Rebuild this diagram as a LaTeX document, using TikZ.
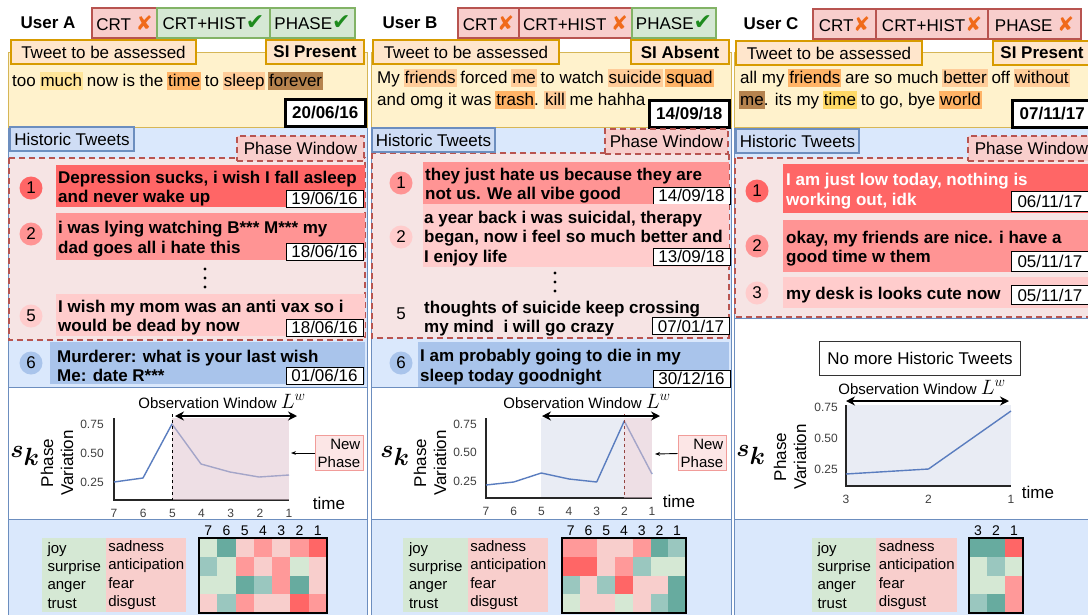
\documentclass[tikz,border=0pt]{standalone}
\usepackage{fontspec}
\usepackage{bm}
\setmainfont{Liberation Sans}
\newfontfamily\symfont{DejaVu Sans}
\usetikzlibrary{arrows.meta}

\definecolor{badred}{HTML}{B85450}
\definecolor{badredfill}{HTML}{F8CECC}
\definecolor{badgreen}{HTML}{82B366}
\definecolor{badgreenfill}{HTML}{D5E8D4}
\definecolor{orangeline}{HTML}{D79B00}
\definecolor{orangefill}{HTML}{FFE6CC}
\definecolor{goldline}{HTML}{D6B656}
\definecolor{yellowfill}{HTML}{FFF2CC}
\definecolor{blueline}{HTML}{6C8EBF}
\definecolor{bluefill}{HTML}{DAE8FC}
\definecolor{hlabelfill}{HTML}{CFDDF5}
\definecolor{phasefill}{HTML}{F6E4E4}
\definecolor{tweetred}{HTML}{FF6666}
\definecolor{tweetpink}{HTML}{FF9494}
\definecolor{tweetlight}{HTML}{FFCCCC}
\definecolor{tweetblue}{HTML}{A9C4EB}
\definecolor{seriesblue}{HTML}{5A7DBF}
\definecolor{obsgrey}{HTML}{E9ECF4}
\definecolor{newpink}{HTML}{E1C6D0}
\definecolor{npline}{HTML}{F19C99}
\definecolor{npfill}{HTML}{FCE6E6}
\definecolor{crossorange}{HTML}{F06A1A}
\definecolor{checkgreen}{HTML}{1E8B1E}
\definecolor{hlyel}{HTML}{FFE599}
\definecolor{hlora}{HTML}{FFB366}
\definecolor{hllor}{HTML}{FFCC99}
\definecolor{hlbrn}{HTML}{B5834E}
\definecolor{hlgld}{HTML}{FFD966}
% heatmap cells
\definecolor{hmG}{HTML}{D5E8D4}
\definecolor{hmM}{HTML}{9AC7BF}
\definecolor{hmT}{HTML}{67AB9F}
\definecolor{hmP}{HTML}{F8CECC}
\definecolor{hmQ}{HTML}{FF9999}
\definecolor{hmR}{HTML}{FF6666}

\newcommand{\xmark}{\textcolor{crossorange}{\fontsize{20}{20}\selectfont\symfont ✘}}
\newcommand{\cmark}{\textcolor{checkgreen}{\fontsize{22}{20}\selectfont\symfont ✔}}
\newcommand{\hl}[2]{\kern-1pt{\setlength{\fboxsep}{0pt}\colorbox{#1}{\rule[-4pt]{0pt}{18pt}\kern1pt#2\kern1pt}}\kern-1pt\relax}

\tikzset{
  f17/.style={font=\fontsize{17}{20}\selectfont},
  f17b/.style={font=\fontsize{17}{20}\selectfont\bfseries},
  f15/.style={font=\fontsize{15}{18}\selectfont},
  badge/.style={f17, line width=2pt, minimum height=30, inner sep=0pt, anchor=north west},
  failbadge/.style={badge, draw=badred, fill=badredfill},
  passbadge/.style={badge, draw=badgreen, fill=badgreenfill},
  tlabel/.style={f17, draw=orangeline, fill=orangefill, line width=2pt, minimum height=24, inner sep=0pt, anchor=north west},
  tweetbox/.style={draw=goldline, fill=yellowfill, line width=1pt},
  tline/.style={f17, inner sep=0pt, anchor=base west},
  bigdate/.style={f17b, draw=black, fill=white, line width=2.5pt, minimum width=80, minimum height=27, inner sep=0pt, anchor=north west},
  colbox/.style={draw=blueline, fill=bluefill, line width=1pt},
  plotbox/.style={draw=blueline, fill=white, line width=1pt},
  hlabel/.style={f17, draw=blueline, fill=hlabelfill, line width=2pt, minimum height=24, inner sep=0pt, anchor=north west},
  phasebox/.style={draw=badred, fill=phasefill, line width=2pt, dash pattern=on 6pt off 4pt},
  plabel/.style={phasebox, f17, fill=badredfill, minimum height=25, inner sep=0pt, anchor=north west},
  tweetbar/.style={inner sep=0pt, anchor=north west},
  twtext/.style={font=\fontsize{17}{19.5}\selectfont\bfseries, align=left, inner sep=0pt, anchor=west, yshift=-2.5pt},
  datebox/.style={f17, draw=black, fill=white, line width=0.9pt, minimum width=77, minimum height=17, inner sep=0pt, anchor=south east},
  numcirc/.style={f17, circle, minimum size=23, inner sep=0pt},
  axisline/.style={draw=black!85, line width=1.3pt},
  phaseline/.style={draw=seriesblue, line width=1.4pt, line join=round},
  ticklabel/.style={font=\fontsize{12}{14}\selectfont, text=black!75, inner sep=0pt},
  obsarrow/.style={{Stealth[length=9pt,width=9pt]}-{Stealth[length=9pt,width=9pt]}, line width=1.6pt},
  newphase/.style={f15, align=right, draw=npline, fill=npfill, line width=1pt, minimum width=48, minimum height=35, inner sep=2pt},
  skfont/.style={font=\fontsize{34}{36}\selectfont},
  emolegend/.style={font=\fontsize{15}{18.3}\selectfont, align=left, minimum height=74, inner sep=0pt, anchor=north west},
  hmlabel/.style={font=\fontsize{14}{16}\selectfont, inner sep=0pt},
  heatframe/.style={draw=black, line width=1.5pt},
}
\newcommand{\Lw}{{\fontsize{20}{20}\selectfont$L^w$}}

\begin{document}
\begin{tikzpicture}[x=1pt, y=-1pt]
\useasboundingbox (0,0) rectangle (1088,614);
\clip (0,0) rectangle (1088,614);
\fill[white] (0,0) rectangle (1088,614);

%%%%%%%%%%%%%%%% User A
\draw[colbox] (8,127) rectangle (367,387);
\draw[plotbox] (8,387) rectangle (367,519);
\draw[colbox] (8,519) rectangle (367,620);

\node[f17b] (userA) at (48,23) {User A};
\node[failbadge, minimum width=65] (crtA) at (91,7) {CRT \xmark};
\node[passbadge, minimum width=113] (histA) at (156,7) {CRT+HIST\cmark};
\node[passbadge, minimum width=85] (phaseA) at (269,7) {PHASE\cmark};

\draw[tweetbox] (8,52) rectangle (367,127);
\node[tlabel, minimum width=185] (tweetA) at (10,39) {Tweet to be assessed};
\node[tlabel, minimum width=98, anchor=north east] (siA) at (365,39) {\bfseries SI Present};
\node[tline] (textA) at (12,86) {too \hl{hlyel}{much} now is the \hl{hlora}{time} to \hl{hllor}{sleep} \hl{hlbrn}{forever}};
\node[bigdate] (dateA) at (284,98) {20/06/16};

\draw[phasebox] (9,158) rectangle (365,340);
\node[hlabel, minimum width=124] (histlabA) at (9,126) {Historic Tweets};
\node[plabel, minimum width=127, anchor=north east] (phlabA) at (365,135) {Phase Window};

\node[tweetbar, fill=tweetred, minimum width=309, minimum height=42] (barA1) at (56,165) {};
\node[twtext] (twA1) at ([xshift=2pt]barA1.west) {Depression sucks, i wish I fall asleep\\and never wake up};
\node[datebox] (dA1) at ([xshift=-2pt]barA1.south east) {19/06/16};
\node[numcirc, fill=tweetred] (nA1) at (31,188) {1};

\node[tweetbar, fill=tweetpink, minimum width=309, minimum height=47] (barA2) at (56,213) {};
\node[twtext] (twA2) at ([xshift=2pt]barA2.west) {i was lying watching B*** M*** my\\dad goes all i hate this};
\node[datebox] (dA2) at ([xshift=-2pt]barA2.south east) {18/06/16};
\node[numcirc, fill=tweetpink] (nA2) at (31,234) {2};

\foreach \yy in {269,278,287} \fill (205,\yy) circle (1.6);

\node[tweetbar, fill=tweetlight, minimum width=309, minimum height=42] (barA5) at (56,294) {};
\node[twtext] (twA5) at ([xshift=2pt]barA5.west) {I wish my mom was an anti vax so i\\would be dead by now};
\node[datebox] (dA5) at ([xshift=-2pt]barA5.south east) {18/06/16};
\node[numcirc, fill=tweetlight] (nA5) at (31,316) {5};

\node[tweetbar, fill=tweetblue, minimum width=315, minimum height=42] (barA6) at (50,342) {};
\node[twtext] (twA6) at ([xshift=7pt]barA6.west) {Murderer: what is your last wish\\Me: date R***};
\node[datebox] (dA6) at ([xshift=-2pt]barA6.south east) {01/06/16};
\node[numcirc, fill=tweetblue] (nA6) at (31,363) {6};

% phase plot A
\node[skfont] (skA) at (25,456) {$\bm{s_k}$};
\node[f17, rotate=90, align=center, inner sep=0pt] (pvA) at (57,463) {Phase\\Variation};
\draw[axisline] (114,418) -- (114,500) -- (289,500);
\draw[phaseline] (114,482) -- (143,478) -- (172,424) -- (201,464) -- (230,472) -- (259,477) -- (289,475);
\fill[newpink, opacity=0.55] (172,418) rectangle (289,500);
\draw[dashed, line width=1pt] (172,414) -- (172,500);
\foreach \t [count=\i from 0] in {7,...,1}
  \node[ticklabel] (xA\t) at ({114+29.17*\i},513) {\t};
\foreach \v/\yy in {0.75/424,0.50/453,0.25/482}
  \node[ticklabel] (yA\yy) at (92,\yy) {\v};
\node[f15] (owA) at (222,401) {Observation Window \Lw};
\coordinate (owlA) at (175,416);
\coordinate (owrA) at (297,416);
\draw[obsarrow] (owlA) -- (owrA);
\node[f17] (timeA) at (329,503) {time};
\node[newphase] (npA) at (339,453) {New\\Phase};
\coordinate (nptA) at (291,453);
\draw[-{Stealth[length=5pt]}, line width=0.9pt] (npA) -- (nptA);

% emotions A
\node[emolegend, fill=badgreenfill, minimum width=64] (posA) at (42,538) {joy\\surprise\\anger\\trust};
\node[emolegend, fill=badredfill, minimum width=80] (negA) at (106,538) {sadness\\anticipation\\fear\\disgust};
\foreach \row [count=\r from 0] in {{G,T,P,Q,P,Q,R},{M,G,Q,P,Q,G,P},{G,G,T,M,Q,T,P},{P,M,Q,P,P,R,Q}}
  \foreach \c [count=\k from 0] in \row
    \fill[fill=hm\c] ({199+18.29*\k},{538+18.75*\r}) rectangle ++(18.29,18.75);
\draw[heatframe] (199,538) rectangle (327,613);
\foreach \t [count=\k from 0] in {7,...,1}
  \node[hmlabel] (hA\t) at ({199+18.29*(\k+0.5)},531) {\t};

%%%%%%%%%%%%%%%% User B
\draw[colbox] (371,127) rectangle (731,387);
\draw[plotbox] (371,387) rectangle (731,519);
\draw[colbox] (371,519) rectangle (731,620);

\node[f17b] (userB) at (410,23) {User B};
\node[failbadge, minimum width=61] (crtB) at (457,7) {CRT\xmark};
\node[failbadge, minimum width=113] (histB) at (518,7) {CRT+HIST \xmark};
\node[passbadge, minimum width=84] (phaseB) at (631,7) {PHASE\cmark};

\draw[tweetbox] (371,52) rectangle (731,127);
\node[tlabel, minimum width=186] (tweetB) at (372,39) {Tweet to be assessed};
\node[tlabel, minimum width=98, anchor=north east] (siB) at (730,39) {\bfseries SI Absent};
\node[tline] (textB1) at (377,83) {My \hl{hllor}{friends} forced \hl{hllor}{me} to watch \hl{hllor}{suicide} \hl{hlora}{squad}};
\node[tline] (textB2) at (377,105) {and omg it was \hl{hlora}{trash}. \hl{hllor}{kill} me hahha};
\node[bigdate] (dateB) at (648,99) {14/09/18};

\draw[phasebox] (372,153) rectangle (729,338);
\node[hlabel, minimum width=123] (histlabB) at (371,127) {Historic Tweets};
\node[plabel, minimum width=123, anchor=north east] (phlabB) at (729,128) {Phase Window};

\node[tweetbar, fill=tweetpink, minimum width=306, minimum height=42] (barB1) at (423,162) {};
\node[twtext] (twB1) at ([xshift=2pt]barB1.west) {they just hate us because they are\\not us. We all vibe good};
\node[datebox] (dB1) at ([xshift=1pt]barB1.south east) {14/09/18};
\node[numcirc, fill=tweetpink] (nB1) at (401,183) {1};

\node[tweetbar, fill=tweetlight, minimum width=306, minimum height=63] (barB2) at (423,204) {};
\node[twtext] (twB2) at ([xshift=1pt]barB2.west) {a year back i was suicidal, therapy\\began, now i feel so much better and\\I enjoy life};
\node[datebox] (dB2) at ([xshift=1pt,yshift=2pt]barB2.south east) {13/09/18};
\node[numcirc, fill=tweetlight] (nB2) at (401,237) {2};

\foreach \yy in {273,282,291} \fill (555,\yy) circle (1.6);

\node[twtext] (twB5) at (424,316) {thoughts of suicide keep crossing\\my mind\ \ i will go crazy};
\node[datebox] (dB5) at (730,335) {07/01/17};
\node[numcirc] (nB5) at (401,314) {5};

\node[tweetbar, fill=tweetblue, minimum width=311, minimum height=45] (barB6) at (418,342) {};
\node[twtext] (twB6) at ([xshift=2pt]barB6.west) {I am probably going to die in my\\sleep today goodnight};
\node[datebox] (dB6) at ([xshift=1pt]barB6.south east) {30/12/16};
\node[numcirc, fill=tweetblue] (nB6) at (401,363) {6};

% phase plot B
\node[skfont] (skB) at (395,456) {$\bm{s_k}$};
\node[f17, rotate=90, align=center, inner sep=0pt] (pvB) at (430,463) {Phase\\Variation};
\fill[obsgrey] (541,418) rectangle (624,498);
\draw[axisline] (486,418) -- (486,498) -- (652,498);
\draw[phaseline] (486,485) -- (513.7,482) -- (541.3,473) -- (569,479) -- (596.7,482) -- (624.3,421) -- (652,474);
\fill[newpink, opacity=0.55] (624,418) rectangle (652,498);
\draw[dashed, draw=badred!80!black, line width=1pt] (624,414) -- (624,498);
\foreach \t [count=\i from 0] in {7,...,1}
  \node[ticklabel] (xB\t) at ({486+27.67*\i},511) {\t};
\foreach \v/\yy in {0.75/424,0.50/452,0.25/481}
  \node[ticklabel] (yB\yy) at (465,\yy) {\v};
\node[f15] (owB) at (587,401) {Observation Window \Lw};
\coordinate (owlB) at (542,416);
\coordinate (owrB) at (660,416);
\draw[obsarrow] (owlB) -- (owrB);
\node[f17] (timeB) at (679,501) {time};
\node[newphase] (npB) at (702,453) {New\\Phase};
\coordinate (nptB) at (655,454);
\draw[-{Stealth[length=5pt]}, line width=0.9pt] (npB) -- (nptB);

% emotions B
\node[emolegend, fill=badgreenfill, minimum width=65] (posB) at (403,538) {joy\\surprise\\anger\\trust};
\node[emolegend, fill=badredfill, minimum width=80] (negB) at (468,538) {sadness\\anticipation\\fear\\disgust};
\foreach \row [count=\r from 0] in {{Q,Q,P,P,Q,T,M},{R,R,P,Q,M,G,G},{M,P,M,R,P,P,T},{G,P,P,G,P,M,T}}
  \foreach \c [count=\k from 0] in \row
    \fill[fill=hm\c] ({562+17.71*\k},{538+18.75*\r}) rectangle ++(17.71,18.75);
\draw[heatframe] (562,538) rectangle (686,613);
\foreach \t [count=\k from 0] in {7,...,1}
  \node[hmlabel] (hB\t) at ({562+17.71*(\k+0.5)},531) {\t};

%%%%%%%%%%%%%%%% User C
\draw[colbox] (734,127) rectangle (1095,318);
\draw[plotbox] (734,318) rectangle (1095,519);
\draw[colbox] (734,519) rectangle (1095,620);

\node[f17b] (userC) at (771,24) {User C};
\node[failbadge, minimum width=63] (crtC) at (812,8) {CRT\xmark};
\node[failbadge, minimum width=112] (histC) at (875,8) {CRT+HIST\xmark};
\node[failbadge, minimum width=93] (phaseC) at (987,8) {PHASE \xmark};

\draw[tweetbox] (734,52) rectangle (1095,127);
\node[tlabel, minimum width=186] (tweetC) at (735,40) {Tweet to be assessed};
\node[tlabel, minimum width=98] (siC) at (992,40) {\bfseries SI Present};
\node[tline] (textC1) at (740,83) {all my \hl{hlora}{friends} are so much \hl{hllor}{better} off \hl{hllor}{without}};
\node[tline] (textC2) at (740,105) {\hl{hlbrn}{me}. its my \hl{hlgld}{time} to go, bye \hl{hlora}{world}};
\node[bigdate] (dateC) at (1011,99) {07/11/17};

\draw[phasebox] (735,158) rectangle (1095,317);
\node[hlabel, minimum width=123] (histlabC) at (735,128) {Historic Tweets};
\node[plabel, minimum width=127] (phlabC) at (967,135) {Phase Window};

\node[tweetbar, fill=tweetred, minimum width=312, minimum height=49] (barC1) at (783,164) {};
\node[twtext, text=white] (twC1) at ([xshift=3pt]barC1.west) {I am just low today, nothing is\\working out, idk};
\node[datebox, anchor=south west, minimum height=20] (dC1) at (1011,212) {06/11/17};
\node[numcirc, fill=tweetred] (nC1) at (757,191) {1};

\node[tweetbar, fill=tweetpink, minimum width=312, minimum height=52] (barC2) at (783,220) {};
\node[twtext] (twC2) at ([xshift=3pt]barC2.west) {okay, my friends are nice. i have a\\good time w them};
\node[datebox, anchor=south west, minimum height=20] (dC2) at (1011,272) {05/11/17};
\node[numcirc, fill=tweetpink] (nC2) at (757,246) {2};

\node[tweetbar, fill=tweetlight, minimum width=312, minimum height=31] (barC3) at (783,277) {};
\node[twtext] (twC3) at ([xshift=3pt]barC3.west) {my desk is looks cute now};
\node[datebox, anchor=south west, minimum height=19] (dC3) at (1011,305) {05/11/17};
\node[numcirc, fill=tweetlight] (nC3) at (757,293) {3};

\node[f17, draw=black!80, line width=1pt, fill=white, minimum width=201, minimum height=34, inner sep=0pt] (nomoreC) at (920,358) {No more Historic Tweets};

% phase plot C
\node[skfont] (skC) at (751,455) {$\bm{s_k}$};
\node[f17, rotate=90, align=center, inner sep=0pt] (pvC) at (790,457) {Phase\\Variation};
\fill[obsgrey] (846,405) rectangle (1011,486);
\draw[axisline] (846,405) -- (846,486) -- (1011,486);
\draw[phaseline] (846,474) -- (928.5,469) -- (1011,411);
\foreach \t/\xx in {3/846,2/928.5,1/1011}
  \node[ticklabel] (xC\t) at (\xx,499) {\t};
\foreach \v/\yy in {0.75/407,0.50/438,0.25/469}
  \node[ticklabel] (yC\yy) at (826,\yy) {\v};
\node[f15] (owC) at (922,387) {Observation Window \Lw};
\coordinate (owlC) at (846,401);
\coordinate (owrC) at (1009,401);
\draw[obsarrow] (owlC) -- (owrC);
\node[f17] (timeC) at (1038,492) {time};

% emotions C
\node[emolegend, fill=badgreenfill, minimum width=64] (posC) at (812,538) {joy\\surprise\\anger\\trust};
\node[emolegend, fill=badredfill, minimum width=81] (negC) at (876,538) {sadness\\anticipation\\fear\\disgust};
\foreach \row [count=\r from 0] in {{T,T,R},{G,M,G},{G,G,Q},{M,T,Q}}
  \foreach \c [count=\k from 0] in \row
    \fill[fill=hm\c] ({969+18*\k},{538+18.75*\r}) rectangle ++(18,18.75);
\draw[heatframe] (969,538) rectangle (1023,613);
\foreach \t [count=\k from 0] in {3,2,1}
  \node[hmlabel] (hC\t) at ({969+18*(\k+0.5)},531) {\t};

\end{tikzpicture}
\end{document}
